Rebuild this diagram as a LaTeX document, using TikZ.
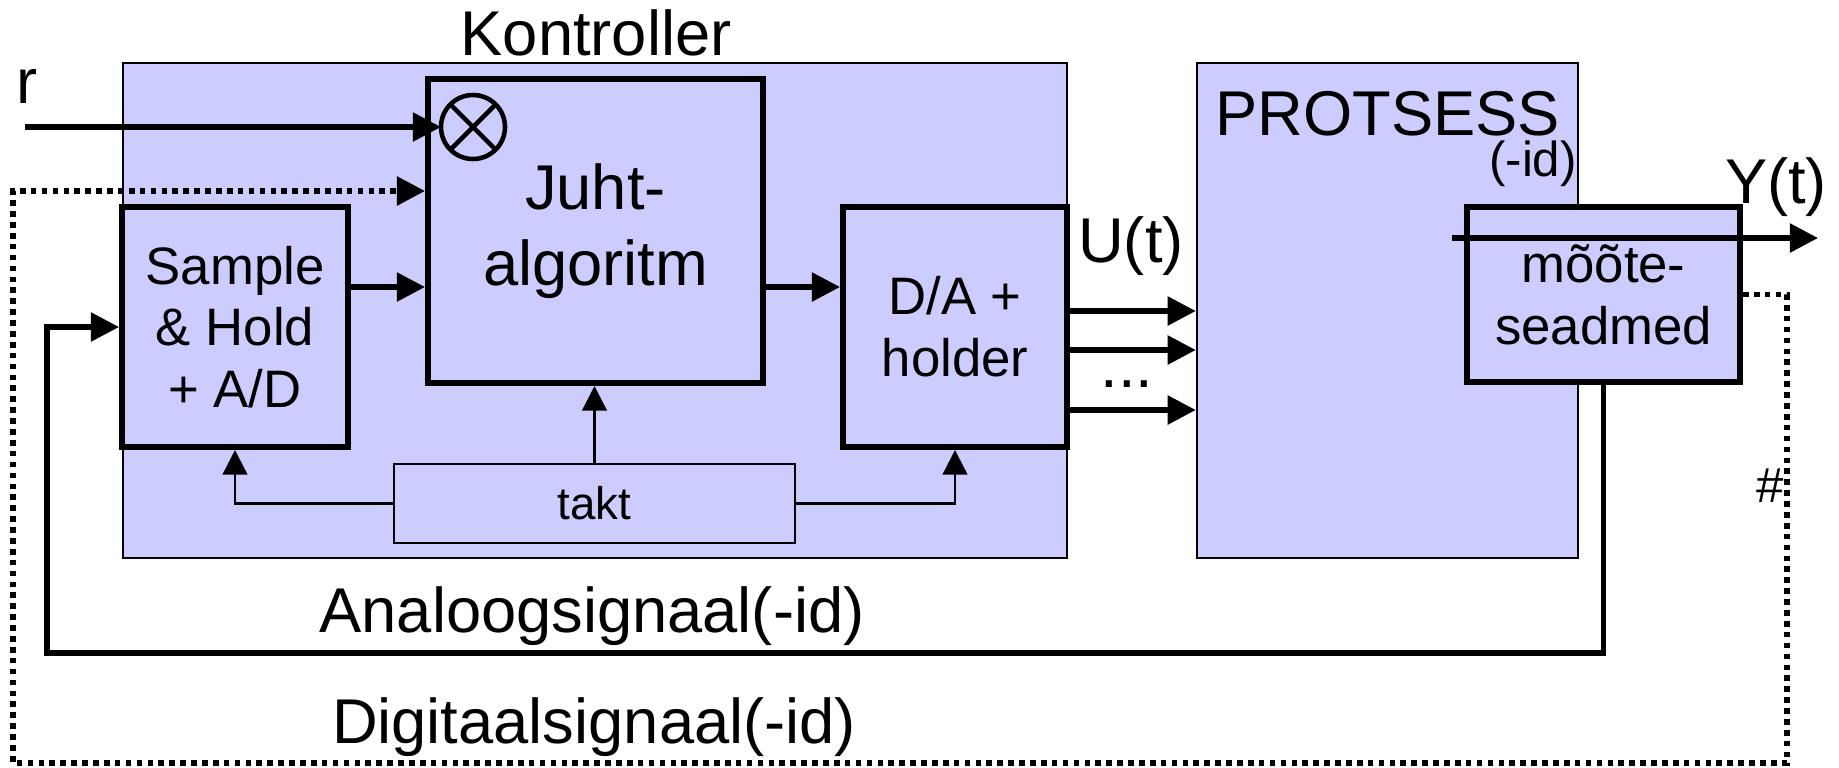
\documentclass[tikz,border=0pt]{standalone}
\usepackage{fontspec}
\setmainfont{Liberation Sans}
\usepackage{tikz}
\usetikzlibrary{arrows.meta,positioning}
\definecolor{blokk}{RGB}{204,204,255}

\begin{document}
\begin{tikzpicture}[
        box/.style={draw, fill=blokk, line width=1.7pt, align=center, inner sep=0pt},
        frame/.style={draw, fill=blokk, line width=0.7pt, inner sep=0pt},
        sig/.style={line width=1.5pt, -{Triangle[length=8pt,width=8pt]}},
        clk/.style={line width=0.7pt, -{Triangle[length=7pt,width=7pt]}},
        digi/.style={line width=1.6pt, dash pattern=on 1.6pt off 1.5pt, -{Triangle[length=8pt,width=8pt]}},
        big/.style={font=\fontsize{18}{21.5}\selectfont},
        mid/.style={font=\fontsize{15}{17.6}\selectfont}
    ]
        \useasboundingbox (0,0) rectangle (18.39,-7.67);
        % Big frames
        \node[frame, minimum width=9.44cm, minimum height=4.95cm] (kontroller) at (5.95,-3.105) {};
        \node[frame, minimum width=3.81cm, minimum height=4.95cm] (protsess) at (13.875,-3.105) {};
        % Blocks inside the controller
        \node[box, big, minimum width=3.35cm, minimum height=3.04cm] (juht) at (5.955,-2.31) {Juht-\\algoritm};
        \node[box, mid, minimum width=2.26cm, minimum height=2.40cm] (sample) at (2.35,-3.27) {Sample\\\& Hold\\+ A/D};
        \node[box, mid, minimum width=2.24cm, minimum height=2.40cm] (da) at (9.55,-3.27) {D/A +\\holder};
        \node[frame, font=\fontsize{13}{15}\selectfont, minimum width=4.01cm, minimum height=0.79cm] (takt) at (5.945,-5.035) {takt};
        \node[draw, circle, line width=1.3pt, minimum size=0.64cm, inner sep=0pt, outer sep=0pt] (mix) at (4.73,-1.27) {};
        \draw[line width=1.3pt] (mix.north west) -- (mix.south east) (mix.north east) -- (mix.south west);
        % Measuring block
        \node[box, mid, minimum width=2.73cm, minimum height=1.75cm] (moote) at (16.035,-2.945) {mõõte-\\seadmed};
        % Labels
        \node[big, anchor=base] (kontrollertxt) at (5.96,-0.55) {Kontroller};
        \node[big, anchor=base west, inner sep=0pt] (rtxt) at (0.16,-1.03) {r};
        \node[big, anchor=base] (utxt) at (11.31,-2.62) {U(t)};
        \node[big, anchor=base] (ptxt) at (13.875,-1.35) {PROTSESS};
        \node[font=\fontsize{14}{16}\selectfont, anchor=base] (idtxt) at (15.33,-1.76) {(-id)};
        \node[big, anchor=base] (ytxt) at (17.76,-2.03) {Y(t)};
        \node[font=\fontsize{14}{16}\selectfont, anchor=base] (hash) at (17.70,-5.02) {\#};
        \node[big, anchor=base] (dots) at (11.27,-3.87) {...};
        \node[big, anchor=base] (analog) at (5.92,-6.32) {Analoogsignaal(-id)};
        \node[big, anchor=base] (digital) at (5.94,-7.43) {Digitaalsignaal(-id)};
        % Free ends
        \coordinate (rin) at (0.25,-1.27);
        \coordinate (yin) at (14.52,-2.38);
        \coordinate (yout) at (18.18,-2.38);
        \coordinate (an) at (0.47,-6.53);
        \coordinate (dg) at (17.87,-7.63);
        \coordinate (dgin) at (0.13,-1.91);
        % Signals
        \draw[sig] (rin) -- (mix.west);
        \draw[sig] (sample.east |- 0,-2.87) -- (juht.west |- 0,-2.87);
        \draw[sig] (juht.east |- 0,-2.87) -- (da.west |- 0,-2.87);
        \foreach \y in {3.11,3.50,4.10}
            \draw[sig] (da.east |- 0,-\y) -- (protsess.west |- 0,-\y);
        \draw[sig] (yin) -- (yout);
        % Clock lines
        \draw[clk] (takt.north) -- (takt.north |- juht.south);
        \draw[clk] (takt.west) -| (sample.south);
        \draw[clk] (takt.east) -| (da.south);
        % Feedback
        \draw[sig] (moote.south) |- (an) |- (sample.west);
        \draw[digi] (moote.east) -| (dg) -| (dgin) -- (juht.west |- dgin);
\end{tikzpicture}
\end{document}
